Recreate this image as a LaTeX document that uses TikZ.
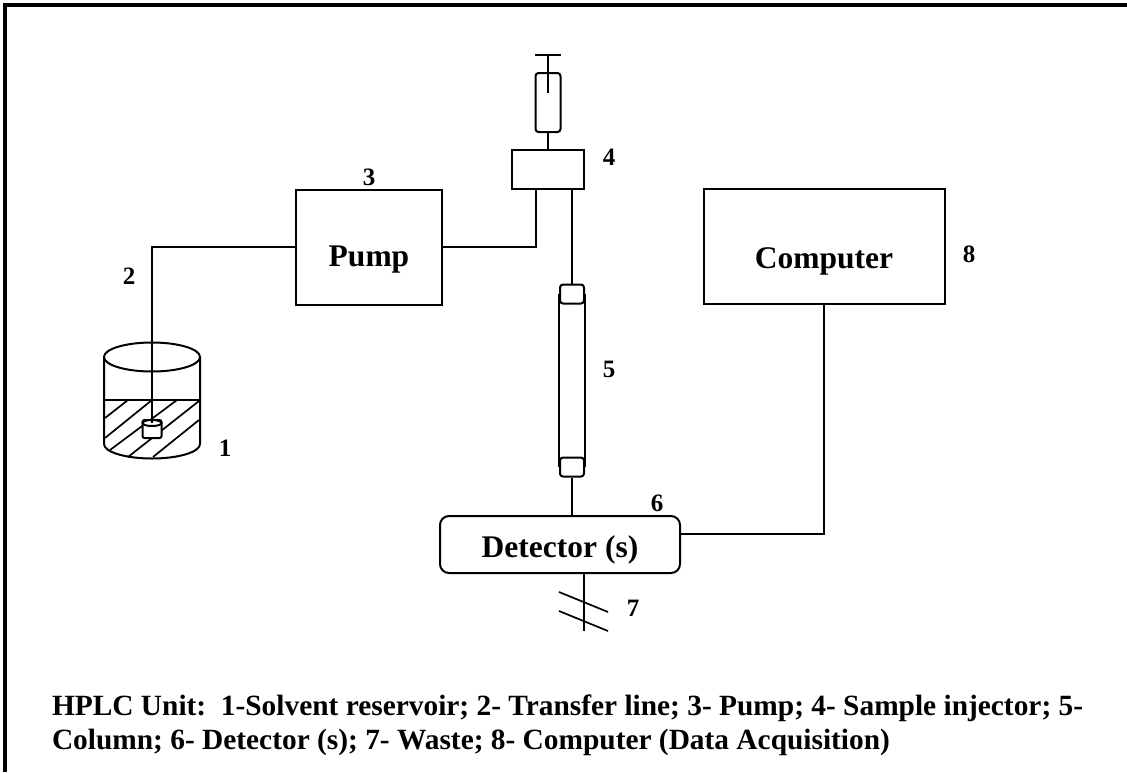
\documentclass[tikz,border=0pt]{standalone}
\usepackage{fontspec}
\setmainfont{Liberation Serif}
\usetikzlibrary{shapes.geometric}

\begin{document}
\begin{tikzpicture}[
        x=1pt,y=-1pt,
        line width=2pt,
        box/.style={draw,inner sep=0pt},
        endcap/.style={draw,rounded corners=3pt,minimum width=24pt,minimum height=19pt,inner sep=0pt},
        hatch/.style={line width=1.7pt},
        title/.style={font=\bfseries\fontsize{31.5}{36}\selectfont},
        number/.style={font=\bfseries\fontsize{25}{29}\selectfont,inner sep=0pt},
        caption/.style={font=\bfseries\fontsize{29.38}{34}\selectfont,inner sep=0pt,anchor=base west}
    ]

    \useasboundingbox (0,0) rectangle (1127,772);
    \coordinate (framebl) at (5,772);
    \coordinate (frametl) at (5,5);
    \coordinate (frametr) at (1127,5);
    \draw[line width=4pt] (framebl) -- (frametl) -- (frametr);

    % reservoir
    \node[draw,ellipse,minimum width=96pt,minimum height=29pt,inner sep=0pt] (lid) at (152,357) {};
    \coordinate (walltl) at (104,357);
    \coordinate (walltr) at (200,357);
    \coordinate (wallbl) at (104,444);
    \draw (walltl) -- (wallbl) arc[start angle=180,end angle=0,x radius=48,y radius=14.5] -- (walltr);
    \coordinate (levell) at (104,400);
    \coordinate (levelr) at (200,400);
    \draw (levell) -- (levelr);
    \draw[hatch] (105,418) -- (128,400);
    \draw[hatch] (105,438) -- (152,400);
    \draw[hatch] (110,450) -- (177,400);
    \draw[hatch] (128,457) -- (199,401);
    \draw[hatch] (153,457) -- (199,420);

    % filter in the reservoir
    \node[draw,fill=white,rounded corners=2pt,minimum width=19pt,minimum height=18pt,inner sep=0pt] (filter) at (152,429) {};
    \draw[fill=white] (152,423) ellipse (9.5 and 3);

    % pump and injector
    \node[box,minimum width=146pt,minimum height=115pt,title] (pump) at (369,247) {\raisebox{-19.5pt}[0pt][0pt]{Pump}};
    \node[box,minimum width=72pt,minimum height=39pt] (injector) at (548,169.5) {};
    \node[draw,rounded corners=3pt,minimum width=25pt,minimum height=59pt,inner sep=0pt] (syringe) at (548,102.5) {};
    \coordinate (plungertop) at (548,55);
    \coordinate (plungerend) at (548,93);
    \coordinate (handlel) at (535,55);
    \coordinate (handler) at (561,55);
    \draw (handlel) -- (handler);
    \draw (plungertop) -- (plungerend);
    \draw (syringe.south) -- (injector.north);

    % column
    \node[endcap] (captop) at (572,294) {};
    \node[endcap] (capbottom) at (572,467) {};
    \draw (captop.west) -- (capbottom.west);
    \draw (captop.east) -- (capbottom.east);

    % detector and computer
    \node[box,rounded corners=9pt,minimum width=240pt,minimum height=57pt,title] (detector) at (560,544.5) {\raisebox{-12.5pt}[0pt][0pt]{Detector (s)}};
    \node[box,minimum width=241pt,minimum height=115pt,title] (computer) at (824,246.5) {\raisebox{-21.5pt}[0pt][0pt]{Computer}};

    % lines
    \coordinate (dip) at (152,423);
    \coordinate (injectorleft) at (536,189);
    \coordinate (injectorright) at (572,189);
    \coordinate (detectorport) at (680,534);
    \coordinate (detectortop) at (572,516);
    \coordinate (wastetop) at (584,573);
    \coordinate (wasteend) at (584,631);
    \coordinate (crossa1) at (559,592);
    \coordinate (crossa2) at (608,612);
    \coordinate (crossb1) at (559,611);
    \coordinate (crossb2) at (608,631);
    \draw (dip) |- (pump.west);
    \draw (pump.east) -| (injectorleft);
    \draw (injectorright) -- (captop.north);
    \draw (capbottom.south) -- (detectortop);
    \draw (computer.south) |- (detectorport);
    \draw (wastetop) -- (wasteend);
    \draw[hatch] (crossa1) -- (crossa2);
    \draw[hatch] (crossb1) -- (crossb2);

    \node[number] (num1) at (225,448) {1};
    \node[number] (num2) at (129,276) {2};
    \node[number] (num3) at (369,177) {3};
    \node[number] (num4) at (609,157) {4};
    \node[number] (num5) at (609,369) {5};
    \node[number] (num6) at (657,503) {6};
    \node[number] (num7) at (633,608) {7};
    \node[number] (num8) at (969,254) {8};

    \node[caption] (caption1) at (51,715) {HPLC Unit:\ \ 1-Solvent reservoir; 2- Transfer line; 3- Pump; 4- Sample injector; 5-};
    \node[caption] (caption2) at (51,749) {Column; 6- Detector (s); 7- Waste; 8- Computer (Data Acquisition)};

    \end{tikzpicture}
\end{document}
